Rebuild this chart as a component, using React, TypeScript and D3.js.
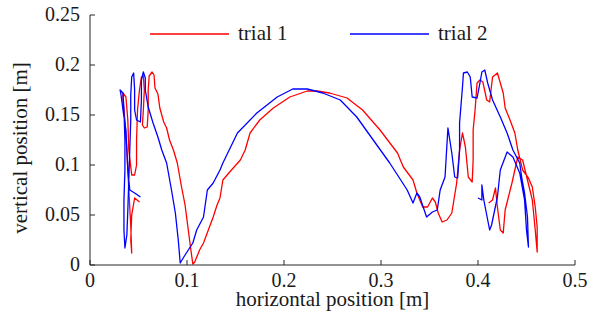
import * as d3 from "d3";

// trial 1 (red) trajectory, metres
const trial1X = [
  0.051, 0.046, 0.043, 0.042, 0.043, 0.042, 0.040, 0.038, 0.036, 0.034, 0.034, 0.037, 0.039, 0.040,
  0.043, 0.046, 0.048, 0.048, 0.049, 0.051, 0.053, 0.055, 0.056, 0.055, 0.054, 0.056, 0.059, 0.060,
  0.060, 0.061, 0.064, 0.066, 0.067, 0.070, 0.072, 0.076, 0.079, 0.082, 0.086, 0.090, 0.094, 0.098,
  0.102, 0.104, 0.106, 0.108, 0.113, 0.117, 0.122, 0.127, 0.131, 0.134, 0.137, 0.144, 0.155, 0.160,
  0.165, 0.175, 0.189, 0.206, 0.224, 0.234, 0.247, 0.265, 0.281, 0.299, 0.317, 0.323, 0.333, 0.337,
  0.343, 0.348, 0.353, 0.356, 0.359, 0.363, 0.368, 0.373, 0.378, 0.381, 0.384, 0.387, 0.390, 0.394,
  0.395, 0.395, 0.397, 0.399, 0.402, 0.405, 0.409, 0.412, 0.415, 0.420, 0.423, 0.426, 0.428, 0.433,
  0.438, 0.441, 0.446, 0.452, 0.456, 0.459, 0.461, 0.461, 0.459, 0.456, 0.451, 0.446, 0.441, 0.435,
  0.428, 0.426, 0.423, 0.420, 0.418, 0.415, 0.411,
];
const trial1Y = [
  0.063, 0.067, 0.050, 0.025, 0.012, 0.040, 0.075, 0.115, 0.145, 0.165, 0.172, 0.168, 0.145, 0.115,
  0.090, 0.090, 0.100, 0.125, 0.155, 0.175, 0.188, 0.189, 0.175, 0.155, 0.140, 0.137, 0.138, 0.155,
  0.175, 0.189, 0.193, 0.190, 0.177, 0.171, 0.157, 0.143, 0.137, 0.125, 0.115, 0.102, 0.080, 0.060,
  0.030, 0.015, 0.001, 0.003, 0.015, 0.022, 0.035, 0.048, 0.060, 0.067, 0.085, 0.093, 0.105, 0.115,
  0.132, 0.145, 0.157, 0.168, 0.174, 0.174, 0.172, 0.167, 0.155, 0.135, 0.112, 0.098, 0.085, 0.072,
  0.058, 0.058, 0.067, 0.063, 0.052, 0.043, 0.045, 0.052, 0.082, 0.115, 0.132, 0.118, 0.088, 0.083,
  0.105, 0.135, 0.155, 0.182, 0.185, 0.183, 0.165, 0.163, 0.188, 0.192, 0.182, 0.172, 0.157, 0.145,
  0.132, 0.115, 0.095, 0.087, 0.078, 0.058, 0.038, 0.013, 0.035, 0.065, 0.085, 0.105, 0.108, 0.082,
  0.055, 0.032, 0.035, 0.058, 0.077, 0.065, 0.062,
];

// trial 2 (blue) trajectory, metres
const trial2X = [
  0.052, 0.046, 0.041, 0.039, 0.038, 0.037, 0.034, 0.032, 0.031, 0.034, 0.035, 0.036, 0.036, 0.035,
  0.035, 0.036, 0.038, 0.039, 0.040, 0.041, 0.042, 0.042, 0.043, 0.045, 0.046, 0.046, 0.048, 0.052,
  0.053, 0.053, 0.055, 0.057, 0.057, 0.060, 0.065, 0.070, 0.074, 0.079, 0.084, 0.088, 0.091, 0.093,
  0.098, 0.106, 0.110, 0.117, 0.121, 0.127, 0.134, 0.137, 0.152, 0.172, 0.193, 0.209, 0.224, 0.240,
  0.258, 0.275, 0.292, 0.309, 0.327, 0.333, 0.337, 0.340, 0.347, 0.353, 0.358, 0.361, 0.366, 0.369,
  0.373, 0.376, 0.379, 0.381, 0.381, 0.384, 0.385, 0.389, 0.392, 0.394, 0.399, 0.402, 0.404, 0.407,
  0.410, 0.415, 0.423, 0.430, 0.436, 0.443, 0.445, 0.448, 0.451, 0.452, 0.450, 0.448, 0.443, 0.436,
  0.430, 0.423, 0.420, 0.414, 0.412, 0.409, 0.406, 0.404, 0.404, 0.400,
];
const trial2Y = [
  0.068, 0.072, 0.075, 0.095, 0.115, 0.135, 0.155, 0.170, 0.175, 0.172, 0.155, 0.125, 0.095, 0.065,
  0.035, 0.017, 0.030, 0.055, 0.085, 0.115, 0.145, 0.170, 0.188, 0.192, 0.175, 0.155, 0.145, 0.143,
  0.165, 0.185, 0.193, 0.187, 0.175, 0.158, 0.142, 0.128, 0.115, 0.102, 0.075, 0.052, 0.025, 0.002,
  0.010, 0.022, 0.035, 0.048, 0.075, 0.082, 0.095, 0.102, 0.132, 0.152, 0.168, 0.176, 0.176, 0.172,
  0.165, 0.148, 0.125, 0.102, 0.075, 0.062, 0.072, 0.068, 0.048, 0.053, 0.055, 0.075, 0.088, 0.137,
  0.112, 0.088, 0.087, 0.115, 0.142, 0.178, 0.192, 0.193, 0.188, 0.168, 0.167, 0.182, 0.193, 0.195,
  0.182, 0.165, 0.148, 0.132, 0.115, 0.102, 0.088, 0.072, 0.048, 0.018, 0.035, 0.065, 0.092, 0.108,
  0.113, 0.095, 0.068, 0.040, 0.035, 0.050, 0.065, 0.080, 0.065, 0.067,
];

const xTicks = [0, 0.1, 0.2, 0.3, 0.4, 0.5];
const yTicks = [0, 0.05, 0.1, 0.15, 0.2, 0.25];
const seriesNames = ["trial 1", "trial 2"];
const seriesColors = ["#ff0000", "#0000ff"];

const W = 607;
const H = 327;
const margin = { top: 15, right: 32, bottom: 62, left: 90 };
const font = "Times New Roman, Times, Liberation Serif, DejaVu Serif, serif";
const axisColor = "#262626";
const textColor = "#1a1a1a";

const App = () => {
  const x = d3.scaleLinear().domain([0, 0.5]).range([margin.left, W - margin.right]);
  const y = d3.scaleLinear().domain([0, 0.25]).range([H - margin.bottom, margin.top]);

  const series = [
    trial1X.map((v, i) => [v, trial1Y[i]] as [number, number]),
    trial2X.map((v, i) => [v, trial2Y[i]] as [number, number]),
  ];
  const path = d3
    .line<[number, number]>()
    .x((d) => x(d[0]))
    .y((d) => y(d[1]));

  const x0 = x(0);
  const y0 = y(0);

  return (
    <svg width={W} height={H} style={{ position: "absolute", left: 0, top: 0, background: "#fff" }}>
      {series.map((s, i) => (
        <path key={i} d={path(s) ?? ""} fill="none" stroke={seriesColors[i]} strokeWidth={1.3} strokeLinejoin="round" />
      ))}

      {/* axes */}
      <line x1={x0} x2={x(0.5)} y1={y0} y2={y0} stroke={axisColor} strokeWidth={1} />
      <line x1={x0} x2={x0} y1={y(0)} y2={y(0.25)} stroke={axisColor} strokeWidth={1} />
      <g fontFamily={font} fill={textColor}>
        {xTicks.map((t) => (
          <g key={"x" + t}>
            <line x1={x(t)} x2={x(t)} y1={y0} y2={y0 - 5} stroke={axisColor} />
            <text x={x(t)} y={y0 + 22} textAnchor="middle" fontSize={20}>
              {t === 0 ? "0" : t.toString()}
            </text>
          </g>
        ))}
        {yTicks.map((t) => (
          <g key={"y" + t}>
            <line x1={x0} x2={x0 + 5} y1={y(t)} y2={y(t)} stroke={axisColor} />
            <text x={x0 - 10} y={y(t) + 6} textAnchor="end" fontSize={20}>
              {t === 0 ? "0" : t.toString()}
            </text>
          </g>
        ))}

        <text x={(x0 + x(0.5)) / 2} y={y0 + 41} textAnchor="middle" fontSize={21}>
          horizontal position [m]
        </text>
        <text
          transform={`translate(27, ${(y(0) + y(0.25)) / 2 + 8}) rotate(-90)`}
          textAnchor="middle"
          fontSize={21}
        >
          vertical position [m]
        </text>

        {/* legend */}
        {seriesNames.map((n, i) => (
          <g key={n} transform={`translate(${150 + i * 200}, 34)`}>
            <line x1={0} x2={79} y1={0} y2={0} stroke={seriesColors[i]} strokeWidth={1.3} />
            <text x={88} y={6} fontSize={21}>
              {n}
            </text>
          </g>
        ))}
      </g>
    </svg>
  );
};

export default App;
